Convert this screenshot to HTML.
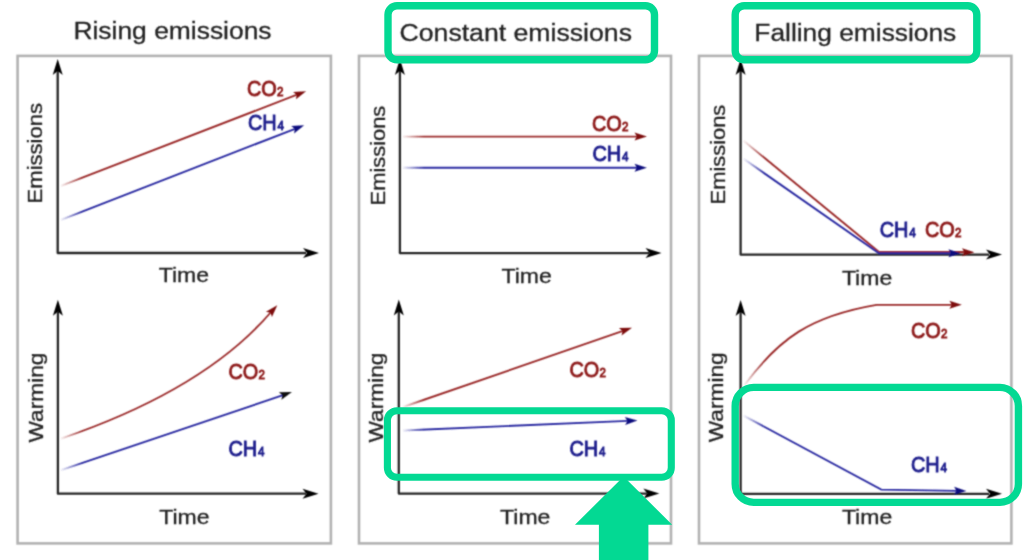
<!DOCTYPE html>
<html>
<head>
<meta charset="utf-8">
<title>Emissions and warming</title>
<style>
html,body{margin:0;padding:0;background:#fff;}
body{width:1024px;height:560px;overflow:hidden;font-family:"Liberation Sans",sans-serif;}
svg{display:block;}
.t{font-family:"Liberation Sans",sans-serif;fill:#242424;stroke:#242424;stroke-width:0.3;}
.ax{stroke:#262626;stroke-width:2.3;fill:none;stroke-linejoin:round;}
.box{fill:none;stroke:#b2b2b2;stroke-width:2.6;}
.r{stroke:#9c2c2c;stroke-width:1.9;fill:none;}
.b{stroke:#2c2ca2;stroke-width:1.9;fill:none;}
.lr{font-family:"Liberation Sans",sans-serif;fill:#8e1b1b;stroke:#8e1b1b;stroke-width:0.9;}
.lb{font-family:"Liberation Sans",sans-serif;fill:#1c1c8c;stroke:#1c1c8c;stroke-width:0.9;}
.g{fill:none;stroke:#03d993;stroke-width:7.4;}
</style>
</head>
<body>
<svg width="1024" height="560" viewBox="0 0 1024 560">
<defs>
<path id="hk" d="M0,0 L-16,-5 L-12,0 L-16,5 Z"/>
<path id="hs" d="M0.4,0 L-12,-4 L-9.6,0 L-12,4 Z"/>
<filter id="bl" filterUnits="userSpaceOnUse" x="0" y="0" width="1024" height="560"><feConvolveMatrix order="3" kernelMatrix="0.04 0.12 0.04 0.12 0.36 0.12 0.04 0.12 0.04" edgeMode="none" preserveAlpha="false"/></filter>
<linearGradient id="fg" x1="0" y1="0" x2="1" y2="0"><stop offset="0" stop-color="#000"/><stop offset="0.12" stop-color="#111"/><stop offset="1" stop-color="#fff"/></linearGradient>
<mask id="fade" maskUnits="userSpaceOnUse" x="0" y="0" width="1024" height="560">
<rect width="1024" height="560" fill="#fff"/>
<rect x="58" y="60" width="24" height="440" fill="url(#fg)"/>
<rect x="400" y="60" width="24" height="440" fill="url(#fg)"/>
<rect x="741" y="60" width="24" height="440" fill="url(#fg)"/>
</mask>
<filter id="bl2" x="-10%" y="-20%" width="120%" height="140%"><feConvolveMatrix order="3" kernelMatrix="0.04 0.12 0.04 0.12 0.36 0.12 0.04 0.12 0.04" edgeMode="none" preserveAlpha="false"/></filter>
</defs>
<rect width="1024" height="560" fill="#fff"/>
<g filter="url(#bl)">
<!-- boxes -->
<rect class="box" x="17.6" y="55.9" width="313.3" height="487.5"/>
<rect class="box" x="359" y="55.9" width="312" height="487.5"/>
<rect class="box" x="699" y="55.9" width="312.4" height="487.5"/>

<!-- titles -->
<text class="t" x="73.4" y="38.5" font-size="24.4" textLength="198.2" lengthAdjust="spacingAndGlyphs">Rising emissions</text>
<text class="t" x="399.5" y="40.5" font-size="24.7" textLength="232.5" lengthAdjust="spacingAndGlyphs">Constant emissions</text>
<text class="t" x="754.3" y="40.5" font-size="24.7" textLength="202" lengthAdjust="spacingAndGlyphs">Falling emissions</text>

<!-- PANEL 1 top -->
<path class="ax" d="M57.7,70 V253 H306"/>
<use href="#hk" transform="translate(57.7,59) rotate(-90)"/>
<use href="#hk" transform="translate(319,253)"/>
<text class="t" transform="translate(42.4,203.4) rotate(-90)" font-size="20.3" textLength="100.4" lengthAdjust="spacingAndGlyphs">Emissions</text>
<text class="t" x="158.8" y="282.2" font-size="20.4" textLength="50.3" lengthAdjust="spacingAndGlyphs">Time</text>
<path class="r" mask="url(#fade)" d="M61,185.8 L297,94.7"/>
<use href="#hs" fill="#7e1010" transform="translate(305.7,91.3) rotate(-21.1)"/>
<path class="b" mask="url(#fade)" d="M61,219.8 L295,128.8"/>
<use href="#hs" fill="#10107e" transform="translate(303.8,125.4) rotate(-21.2)"/>
<text class="lr" x="246.9" y="96.0" font-size="22.3" textLength="36.5" lengthAdjust="spacingAndGlyphs">CO<tspan font-size="13" dx="0.3">2</tspan></text>
<text class="lb" x="247.9" y="130.0" font-size="22.3" textLength="36.0" lengthAdjust="spacingAndGlyphs">CH<tspan font-size="13" dx="0.8">4</tspan></text>

<!-- PANEL 1 bottom -->
<path class="ax" d="M57.9,311 V493.7 H306"/>
<use href="#hk" transform="translate(57.9,299.8) rotate(-90)"/>
<use href="#hk" transform="translate(318.5,493.7)"/>
<text class="t" transform="translate(42.8,442.5) rotate(-90)" font-size="20.3" textLength="90" lengthAdjust="spacingAndGlyphs">Warming</text>
<text class="t" x="159.2" y="523.5" font-size="20.4" textLength="50.3" lengthAdjust="spacingAndGlyphs">Time</text>
<path class="r" mask="url(#fade)" d="M61,438.6 Q205,389.5 271.5,311.5"/>
<use href="#hs" fill="#7e1010" transform="translate(277,305.5) rotate(-48)"/>
<path class="b" mask="url(#fade)" d="M61,470.2 L283,395.2"/>
<use href="#hs" fill="#111" transform="translate(291.5,392.2) rotate(-18.7)"/>
<text class="lr" x="228.4" y="379.0" font-size="22.3" textLength="36.5" lengthAdjust="spacingAndGlyphs">CO<tspan font-size="13" dx="0.3">2</tspan></text>
<text class="lb" x="228.4" y="456.1" font-size="22.3" textLength="36.0" lengthAdjust="spacingAndGlyphs">CH<tspan font-size="13" dx="0.8">4</tspan></text>

<!-- PANEL 2 top -->
<path class="ax" d="M399.9,70 V253.1 H649"/>
<use href="#hk" transform="translate(399.9,59) rotate(-90)"/>
<use href="#hk" transform="translate(661.5,253.1)"/>
<text class="t" transform="translate(384.6,205.4) rotate(-90)" font-size="20.3" textLength="99.7" lengthAdjust="spacingAndGlyphs">Emissions</text>
<text class="t" x="501.5" y="283.2" font-size="20.4" textLength="50.3" lengthAdjust="spacingAndGlyphs">Time</text>
<path class="r" mask="url(#fade)" d="M403,136.6 H638"/>
<use href="#hs" fill="#7e1010" transform="translate(646.5,136.6)"/>
<path class="b" mask="url(#fade)" d="M403,167.8 H638"/>
<use href="#hs" fill="#10107e" transform="translate(646.5,167.8)"/>
<text class="lr" x="591.9" y="131.4" font-size="22.3" textLength="36.5" lengthAdjust="spacingAndGlyphs">CO<tspan font-size="13" dx="0.3">2</tspan></text>
<text class="lb" x="592.4" y="160.8" font-size="22.3" textLength="36.0" lengthAdjust="spacingAndGlyphs">CH<tspan font-size="13" dx="0.8">4</tspan></text>

<!-- PANEL 2 bottom -->
<path class="ax" d="M398.8,311 V493.6 H647"/>
<use href="#hk" transform="translate(398.8,299.5) rotate(-90)"/>
<use href="#hk" transform="translate(659.3,493.6)"/>
<text class="t" transform="translate(383,442.5) rotate(-90)" font-size="20.3" textLength="90" lengthAdjust="spacingAndGlyphs">Warming</text>
<text class="t" x="500.1" y="523.5" font-size="20.4" textLength="50.3" lengthAdjust="spacingAndGlyphs">Time</text>
<path class="r" mask="url(#fade)" d="M403,407 L623,330.9"/>
<use href="#hs" fill="#7e1010" transform="translate(631.6,327.9) rotate(-19.1)"/>
<path class="b" mask="url(#fade)" d="M403,430.5 L628,420.9"/>
<use href="#hs" fill="#10107e" transform="translate(637,420.5) rotate(-2.4)"/>
<text class="lr" x="569.4" y="377.2" font-size="22.3" textLength="36.5" lengthAdjust="spacingAndGlyphs">CO<tspan font-size="13" dx="0.3">2</tspan></text>
<text class="lb" x="569.4" y="456.0" font-size="22.3" textLength="36.0" lengthAdjust="spacingAndGlyphs">CH<tspan font-size="13" dx="0.8">4</tspan></text>

<!-- PANEL 3 top -->
<path class="ax" d="M740.6,70 V254.6 H989"/>
<use href="#hk" transform="translate(740.6,59) rotate(-90)"/>
<use href="#hk" transform="translate(1002,254.6)"/>
<text class="t" transform="translate(724.6,204.4) rotate(-90)" font-size="20.3" textLength="99.7" lengthAdjust="spacingAndGlyphs">Emissions</text>
<text class="t" x="841.9" y="284.8" font-size="20.4" textLength="50.3" lengthAdjust="spacingAndGlyphs">Time</text>
<path class="r" mask="url(#fade)" d="M743.5,140.7 L879,252 H965"/>
<use href="#hs" fill="#7e1010" transform="translate(974,252.2)"/>
<path class="b" mask="url(#fade)" d="M743.5,158.8 L879,253.2 H951"/>
<use href="#hs" fill="#10107e" transform="translate(960.4,253.2)"/>
<text class="lb" x="879.7" y="236.8" font-size="22.3" textLength="36.0" lengthAdjust="spacingAndGlyphs">CH<tspan font-size="13" dx="0.8">4</tspan></text>
<text class="lr" x="924.9" y="237.2" font-size="22.3" textLength="36.5" lengthAdjust="spacingAndGlyphs">CO<tspan font-size="13" dx="0.3">2</tspan></text>

<!-- PANEL 3 bottom -->
<path class="ax" d="M740.6,311 V493.8 H989"/>
<use href="#hk" transform="translate(740.6,300) rotate(-90)"/>
<use href="#hk" transform="translate(1002,493.8)"/>
<text class="t" transform="translate(722.5,442.3) rotate(-90)" font-size="20.3" textLength="90" lengthAdjust="spacingAndGlyphs">Warming</text>
<text class="t" x="841.9" y="523.8" font-size="20.4" textLength="50.3" lengthAdjust="spacingAndGlyphs">Time</text>
<path class="r" mask="url(#fade)" d="M744.5,385 C779.3,338.3 810.4,316.2 876.5,304.9 H953"/>
<use href="#hs" fill="#7e1010" transform="translate(961.4,304.8)"/>
<path class="b" mask="url(#fade)" d="M743.5,415.6 L881.3,489.6 L957.5,490.9"/>
<use href="#hs" fill="#10107e" transform="translate(966,491) rotate(1)"/>
<text class="lr" x="910.9" y="338.2" font-size="22.3" textLength="36.5" lengthAdjust="spacingAndGlyphs">CO<tspan font-size="13" dx="0.3">2</tspan></text>
<text class="lb" x="910.9" y="472.0" font-size="22.3" textLength="36.0" lengthAdjust="spacingAndGlyphs">CH<tspan font-size="13" dx="0.8">4</tspan></text>
</g>

<!-- green overlays -->
<g>
<path fill="#03d993" d="M623.6,476.4 L672.2,524.8 H648.4 V560 H598.9 V524.8 H575 Z"/>
<rect class="g" x="388" y="5.8" width="266.5" height="54" rx="9" ry="9"/>
<rect class="g" x="735.2" y="5.8" width="241.6" height="54" rx="9" ry="9"/>
<rect class="g" style="stroke-width:7.1" x="387.4" y="410.7" width="283.9" height="66.6" rx="9.5" ry="9.5"/>
<rect class="g" x="735.2" y="387.4" width="283.2" height="115" rx="18.5" ry="18.5"/>
</g>
</svg>
</body>
</html>
